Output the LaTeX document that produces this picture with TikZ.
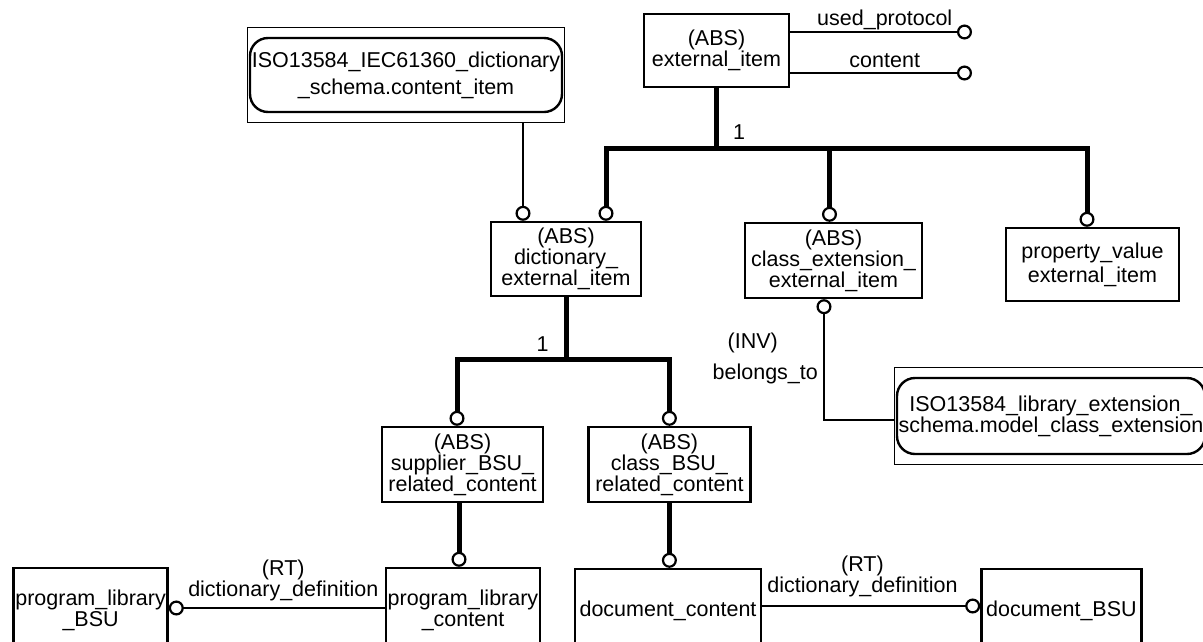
\documentclass[tikz,border=0pt]{standalone}
\usepackage{fontspec}
\setmainfont{Liberation Sans}
\usetikzlibrary{arrows.meta,positioning,fit}

\begin{document}
\begin{tikzpicture}[x=1pt, y=-1pt, node distance=40pt,
  every node/.style={font=\fontsize{21.5}{21}\selectfont, inner sep=0pt, align=center},
  ent/.style={draw, line width=2.4pt, minimum height=75pt},
  ref/.style={draw, line width=2.4pt, rounded corners=18pt},
  refbox/.style={draw, line width=0.8pt, inner xsep=1pt, inner ysep=9pt},
  rel/.style={line width=2.2pt},
  isa/.style={line width=5pt},
  circ/.style={-{Circle[open, length=15pt, width=15pt, line width'=2.2pt]}},
  circ2/.style={{Circle[open, length=15pt, width=15pt, line width'=2.2pt]}-{Circle[open, length=15pt, width=15pt, line width'=2.2pt]}}]
\useasboundingbox (0,0) rectangle (1203,641);
\clip (0,0) rectangle (1203,641);

% entities
\node[ent, minimum width=145pt, minimum height=73pt] (ext) at (716.5,50.5) {(ABS)\\external\_item};
\node[ent, minimum width=150pt, minimum height=74pt] (dict) at (566,259) {(ABS)\\dictionary\_\\external\_item};
\node[ent, minimum width=177pt, minimum height=75pt] (clsext) at (833.5,260.5) {(ABS)\\class\_extension\_\\external\_item};
\node[ent, minimum width=173pt, minimum height=73pt] (pval) at (1092.5,264.5) {property\_value\\[3pt]external\_item};
\node[ent, minimum width=161pt] (supp) at (462.5,464.5) {(ABS)\\supplier\_BSU\_\\related\_content};
\node[ent, minimum width=162pt, right=43pt of supp] (clsbsu) {(ABS)\\class\_BSU\_\\related\_content};
\node[ent, minimum width=154pt, minimum height=84pt] (plc) at (463,610) {program\_library\\\_content};
\node[ent, minimum width=154pt, minimum height=84pt, left=216pt of plc] (plbsu) {program\_library\\\_BSU};
\node[ent, minimum width=186pt, minimum height=84pt] (doc) at (668,611) {document\_content};
\node[ent, minimum width=160pt, minimum height=84pt, right=218pt of doc] (docbsu) {document\_BSU};

% references to other schemas
\node[ref, minimum width=312pt, minimum height=74pt] (isodict) at (406,75) {ISO13584\_IEC61360\_dictionary\\[6pt]\_schema.content\_item};
\node[refbox, fit=(isodict)] (isodictbox) {};
\node[ref, minimum width=308pt, minimum height=76pt] (isolib) at (1051,416) {ISO13584\_library\_extension\_\\schema.model\_class\_extension};
\node[refbox, fit=(isolib)] (isolibbox) {};

% attributes of external_item
\coordinate (protoend) at (972,32);
\coordinate (contend) at (972,73);
\draw[rel, circ] (ext.east |- protoend) -- node[above=1pt, pos=0.52] {used\_protocol} (protoend);
\draw[rel, circ] (ext.east |- contend) -- node[above=4pt, pos=0.52] {content} (contend);

% first subtype tree
\coordinate (bar1) at ([yshift=-60pt]ext.south);
\coordinate (dictl) at ([xshift=-43pt]dict.north);
\coordinate (dictr) at ([xshift=40pt]dict.north);
\coordinate (clsin) at ([xshift=-4pt]clsext.north);
\coordinate (pvalin) at ([xshift=-5.5pt]pval.north);
\draw[isa] (ext) -- node[pos=0.73, right=14pt] {1} (bar1);
\draw[isa, circ2] (dictr) -- (dictr |- bar1) -- (pvalin |- bar1) -- (pvalin);
\draw[isa, circ] (clsin |- bar1) -- (clsin);
\draw[rel, circ] (isodictbox.south -| dictl) -- (dictl);

% second subtype tree
\coordinate (bar2) at ([yshift=-62pt]dict.south);
\coordinate (suppin) at ([xshift=-5.5pt]supp.north);
\draw[isa] (dict) -- node[pos=0.75, left=15pt] {1} (bar2);
\draw[isa, circ2] (suppin) -- (suppin |- bar2) -- (clsbsu.north |- bar2) -- (clsbsu.north);

% contents
\coordinate (plcin) at ([xshift=-4pt]plc.north);
\draw[isa, circ] (supp.south -| plcin) -- (plcin);
\draw[isa, circ] (clsbsu.south) -- (clsbsu.south |- doc.north);
\draw[rel, circ] ([yshift=2pt]plc.west) -- node[above=6pt, pos=0.47] {(RT)\\dictionary\_definition} ([yshift=2pt]plbsu.east);
\draw[rel, circ] ([yshift=5pt]doc.east) -- node[above=8pt, pos=0.46] {(RT)\\dictionary\_definition} ([yshift=5pt]docbsu.west);

% inverse attribute
\coordinate (clsout) at ([xshift=-9.5pt]clsext.south);
\draw[rel, circ] ([yshift=-4pt]isolibbox.west) -| node[pos=0.82, left=45pt] {(INV)} node[pos=0.69, left=5pt] {belongs\_to} (clsout);
\end{tikzpicture}
\end{document}
